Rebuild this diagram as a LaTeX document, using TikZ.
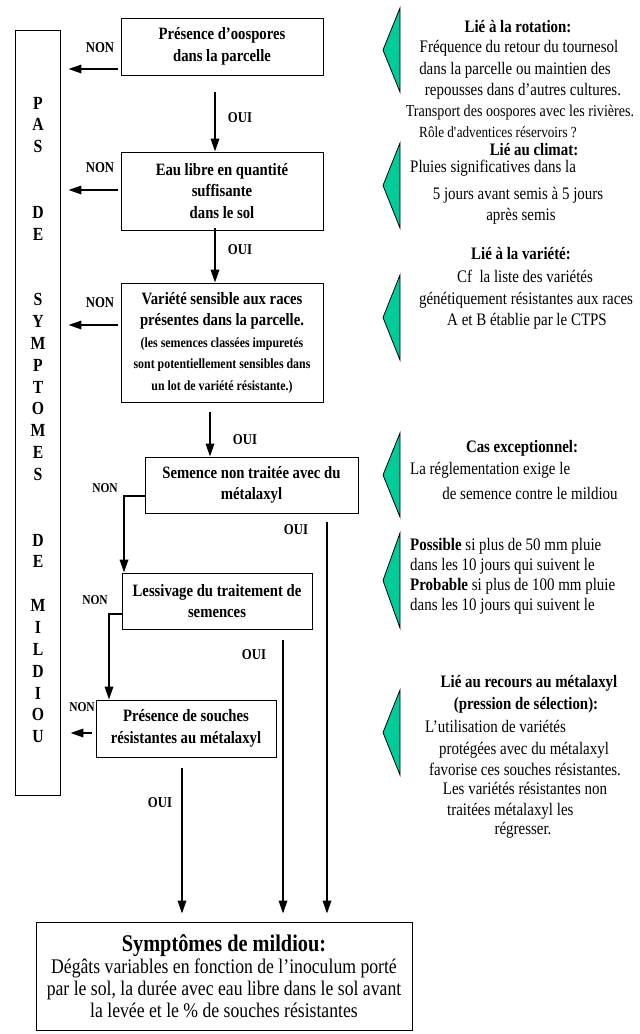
\documentclass[tikz,border=0pt]{standalone}
\usepackage{fontspec}
\setmainfont{Liberation Serif}[FakeStretch=0.85]
\usetikzlibrary{arrows.meta}
\definecolor{vertmer}{RGB}{0,204,153}

\begin{document}
\begin{tikzpicture}[x=1pt,y=-1pt,
		boite/.style={draw,line width=0.9pt,align=center,inner sep=0pt,font=\fontsize{17.3}{21.5}\selectfont\bfseries},
		fleche/.style={line width=1.7pt,-{Triangle[length=13pt,width=8.5pt]}},
		etiq/.style={inner sep=0pt,font=\fontsize{15}{15}\selectfont\bfseries},
		lettre/.style={inner sep=0pt,font=\fontsize{18.5}{18.5}\selectfont\bfseries},
		txt/.style={anchor=mid,inner sep=0pt,font=\fontsize{17.6}{21}\selectfont},
		titre/.style={txt,font=\fontsize{17.5}{21}\selectfont\bfseries}]
		\useasboundingbox (0,0) rectangle (640,1034);
		% colonne de gauche
		\node[draw,line width=0.9pt,minimum width=45pt,minimum height=765pt] (pas) at (37.5,412.5) {};
		\foreach \c [count=\i from 0] in {P,A,S,,,D,E,,,S,Y,M,P,T,O,M,E,S,,,D,E,,M,I,L,D,I,O,U}
			\node[lettre] (l\i) at (38,103+21.85*\i) {\c};
		% les questions
		\node[boite,minimum width=202pt,minimum height=57pt] (b1) at (222,46.5)
			{Présence d’oospores\\dans la parcelle};
		\node[boite,minimum width=202pt,minimum height=78pt] (b2) at (222,191)
			{Eau libre en quantité\\suffisante\\dans le sol};
		\node[boite,minimum width=202pt,minimum height=119pt] (b3) at (222,342.5)
			{Variété sensible aux races\\présentes dans la parcelle.\\
			\fontsize{14}{19.5}\selectfont (les semences classées impuretés\\
			\fontsize{14}{19.5}\selectfont sont potentiellement sensibles dans\\
			\fontsize{14}{19.5}\selectfont un lot de variété résistante.)};
		\node[boite,minimum width=213pt,minimum height=56pt] (b4) at (251.5,485)
			{Semence non traitée avec du\\métalaxyl};
		\node[boite,minimum width=190pt,minimum height=56pt] (b5) at (217,601)
			{Lessivage du traitement de\\semences};
		\node[boite,minimum width=180pt,minimum height=57pt] (b6) at (186,728.5)
			{Présence de souches\\résistantes au métalaxyl};
		\node[boite,minimum width=376pt,minimum height=108pt,font=\fontsize{20.8}{22}\selectfont] (b7) at (224,976)
			{\fontsize{23.9}{27}\selectfont\bfseries Symptômes de mildiou:\\
			Dégâts variables en fonction de l’inoculum porté\\
			par le sol, la durée avec eau libre dans le sol avant\\
			la levée et le \% de souches résistantes};
		% points de depart
		\coordinate (n1) at (118,69);
		\coordinate (n2) at (118,190);
		\coordinate (n3) at (118,325);
		\coordinate (n4) at (124,496);
		\coordinate (n5) at (109,614);
		\coordinate (n6) at (92,733);
		\coordinate (o1) at (215,92);
		\coordinate (o2) at (215,228);
		\coordinate (o3) at (210,412);
		\coordinate (o4) at (327,522);
		\coordinate (o5) at (283,640);
		\coordinate (o6) at (182,768);
		% fleches NON
		\draw[fleche,shorten >=8pt] (n1) -- (n1 -| pas.east);
		\draw[fleche,shorten >=8pt] (n2) -- (n2 -| pas.east);
		\draw[fleche,shorten >=8pt] (n3) -- (n3 -| pas.east);
		\draw[fleche] (n4 -| b4.west) -- (n4) -- (n4 |- b5.north);
		\draw[fleche] (n5 -| b5.west) -- (n5) -- (n5 |- b6.north);
		\draw[fleche,shorten >=10pt] (n6) -- (n6 -| pas.east);
		% fleches OUI
		\draw[fleche] (o1) -- (o1 |- b2.north);
		\draw[fleche] (o2) -- (o2 |- b3.north);
		\draw[fleche] (o3) -- (o3 |- b4.north);
		\draw[fleche,shorten >=8pt] (o4) -- (o4 |- b7.north);
		\draw[fleche,shorten >=8pt] (o5) -- (o5 |- b7.north);
		\draw[fleche,shorten >=8pt] (o6) -- (o6 |- b7.north);
		\node[etiq] (non1) at (100,48) {NON};
		\node[etiq] (non2) at (100,168) {NON};
		\node[etiq] (non3) at (100,303) {NON};
		\node[etiq,font=\fontsize{13.5}{13.5}\selectfont\bfseries] (non4) at (105,488) {NON};
		\node[etiq,font=\fontsize{13.5}{13.5}\selectfont\bfseries] (non5) at (95,600) {NON};
		\node[etiq,font=\fontsize{13.5}{13.5}\selectfont\bfseries] (non6) at (82,707) {NON};
		\node[etiq] (oui1) at (240,118) {OUI};
		\node[etiq] (oui2) at (240,250) {OUI};
		\node[etiq] (oui3) at (245,440) {OUI};
		\node[etiq] (oui4) at (296,530) {OUI};
		\node[etiq] (oui5) at (254,655) {OUI};
		\node[etiq] (oui6) at (160,803) {OUI};
		% triangles verts
		\foreach \h/\b in {8/92,143/228,275/360,433/517,533/628,690/775}
			\filldraw[fill=vertmer,draw=black,line width=0.8pt] (400,\h) -- (383,{(\h+\b)/2}) -- (400,\b) -- cycle;
		% commentaires
		\node[titre] (rot) at (518,30) {Lié à la rotation:};
		\node[txt] (rot1) at (519,50) {Fréquence du retour du tournesol};
		\node[txt] (rot2) at (515,72) {dans la parcelle ou maintien des};
		\node[txt] (rot3) at (523,93) {repousses dans d’autres cultures.};
		\node[txt,font=\fontsize{16.6}{21}\selectfont] (rot4) at (520,114) {Transport des oospores avec les rivières.};
		\node[txt,font=\fontsize{15.5}{18}\selectfont] (rot5) at (498,135) {Rôle d\textquotesingle adventices réservoirs ?};
		\node[titre] (clim) at (534,153) {Lié au climat:};
		\node[txt,anchor=mid west] (clim1) at (410,170) {Pluies significatives dans la};
		\node[txt] (clim2) at (518,197) {5 jours avant semis à 5 jours};
		\node[txt] (clim3) at (521,218) {après semis};
		\node[titre] (var) at (521,257) {Lié à la variété:};
		\node[txt] (var1) at (525,280) {Cf\ \ la liste des variétés};
		\node[txt] (var2) at (526,302) {génétiquement résistantes aux races};
		\node[txt] (var3) at (527,323) {A et B établie par le CTPS};
		\node[titre] (exc) at (522,450) {Cas exceptionnel:};
		\node[txt,anchor=mid west] (exc1) at (410,472) {La réglementation exige le};
		\node[txt] (exc2) at (530,497) {de semence contre le mildiou};
		\node[txt,anchor=mid west] (lav1) at (410,548) {\textbf{Possible} si plus de 50 mm pluie};
		\node[txt,anchor=mid west] (lav2) at (410,568) {dans les 10 jours qui suivent le};
		\node[txt,anchor=mid west] (lav3) at (410,588) {\textbf{Probable} si plus de 100 mm pluie};
		\node[txt,anchor=mid west] (lav4) at (410,608) {dans les 10 jours qui suivent le};
		\node[titre] (met) at (529,685) {Lié au recours au métalaxyl};
		\node[titre] (met1) at (526,707) {(pression de sélection):};
		\node[txt,anchor=mid west] (met2) at (425,730) {L’utilisation de variétés};
		\node[txt] (met3) at (524,752) {protégées avec du métalaxyl};
		\node[txt] (met4) at (525,773) {favorise ces souches résistantes.};
		\node[txt] (met5) at (525,792) {Les variétés résistantes non};
		\node[txt,anchor=mid west] (met6) at (447,813) {traitées métalaxyl les};
		\node[txt] (met7) at (523,832) {régresser.};
	\end{tikzpicture}
\end{document}
